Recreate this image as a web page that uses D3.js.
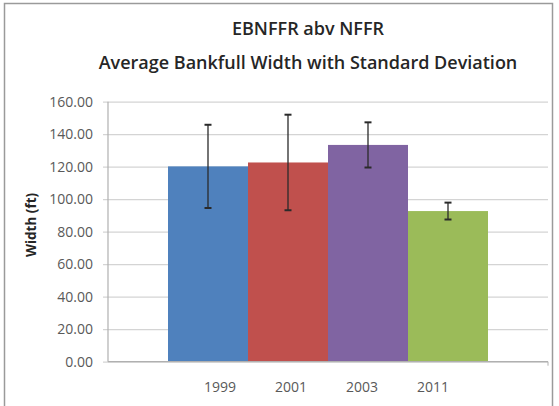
<!DOCTYPE html>
<html><head><meta charset="utf-8">
<script src="https://cdn.jsdelivr.net/npm/d3@7"></script>
<style>body{margin:0;background:#fff}svg{display:block}</style>
</head><body>
<svg id="c" width="559" height="406"></svg>
<script>
const categories = ["1999", "2001", "2003", "2011"];
const means = [120.2, 122.6, 133.4, 92.7];
const stdevs = [25.6, 29.4, 13.9, 5.2];
const colors = ["#4F81BD", "#C0504D", "#8064A2", "#9BBB59"];
const yTicks = [0, 20, 40, 60, 80, 100, 120, 140, 160];
const titleLines = ["EBNFFR abv NFFR", "Average Bankfull Width with Standard Deviation"];
const yLabel = "Width (ft)";

const svg = d3.select("#c");
const plot = {left: 108, right: 548, top: 101.7, bottom: 361.7};

// frame
svg.append("rect").attr("x", 4.5).attr("y", 3.5).attr("width", 548).attr("height", 420)
  .attr("fill", "#fff").attr("stroke", "#9a9a9a").attr("stroke-width", 1.5);

const y = d3.scaleLinear().domain([0, 160]).range([plot.bottom, plot.top]);
const x = d3.scaleBand().domain(categories).range([plot.left, plot.right]).paddingInner(0).paddingOuter(0.75);
const xl = d3.scalePoint().domain(categories).range([220, 433]);

// gridlines + y axis
const yAxis = d3.axisLeft(y).tickValues(yTicks).tickFormat(d3.format(".2f"))
  .tickSize(-(plot.right - plot.left + 5)).tickPadding(10);
const gy = svg.append("g").attr("transform", `translate(${plot.left - 5},0)`).call(yAxis);
gy.select(".domain").remove();
gy.selectAll(".tick line").attr("stroke", "#d4d4d4").attr("stroke-width", 1.2);
gy.selectAll(".tick text").attr("fill", "#595959").style("font-family", "'Open Sans', sans-serif")
  .style("font-size", "14px");
svg.append("line").attr("x1", plot.left).attr("x2", plot.left).attr("y1", plot.top).attr("y2", plot.bottom)
  .attr("stroke", "#b0b0b0").attr("stroke-width", 1.2);

// bars
svg.append("g").selectAll("rect").data(categories).join("rect")
  .attr("x", d => x(d)).attr("width", x.bandwidth())
  .attr("y", (d, i) => y(means[i])).attr("height", (d, i) => y(0) - y(means[i]))
  .attr("fill", (d, i) => colors[i]);

// x axis
svg.append("line").attr("x1", plot.left).attr("x2", plot.right).attr("y1", plot.bottom).attr("y2", plot.bottom)
  .attr("stroke", "#b0b0b0").attr("stroke-width", 1.2);
svg.append("line").attr("x1", plot.right).attr("x2", plot.right).attr("y1", plot.bottom).attr("y2", plot.bottom + 4)
  .attr("stroke", "#b0b0b0");

// error bars
const eg = svg.append("g").attr("stroke", "#2a2a2a").attr("stroke-width", 1.3);
categories.forEach((c, i) => {
  const cx = x(c) + x.bandwidth() / 2;
  eg.append("line").attr("x1", cx).attr("x2", cx).attr("y1", y(means[i] + stdevs[i])).attr("y2", y(means[i] - stdevs[i]));
  [means[i] + stdevs[i], means[i] - stdevs[i]].forEach(v => {
    eg.append("line").attr("x1", cx - 3.5).attr("x2", cx + 3.5).attr("y1", y(v)).attr("y2", y(v)).attr("stroke-width", 2);
  });
});

// category labels
svg.append("g").selectAll("text").data(categories).join("text")
  .attr("x", d => xl(d)).attr("y", 392).attr("text-anchor", "middle")
  .attr("fill", "#595959").style("font-family", "'Open Sans', sans-serif").style("font-size", "14px")
  .text(d => d);

// titles
svg.append("g").selectAll("text").data(titleLines).join("text")
  .attr("x", 308).attr("y", (d, i) => 35 + i * 34).attr("text-anchor", "middle")
  .attr("fill", "#262626").style("font-family", "'Open Sans', sans-serif").style("font-weight", "600")
  .style("font-size", "18px").text(d => d);

// y label
svg.append("text").attr("transform", "translate(31,225) rotate(-90)").attr("text-anchor", "middle")
  .attr("dy", "0.35em").attr("fill", "#262626").style("font-family", "'Open Sans', sans-serif")
  .style("font-weight", "700").style("font-size", "13.5px").text(yLabel);
</script>
</body></html>
